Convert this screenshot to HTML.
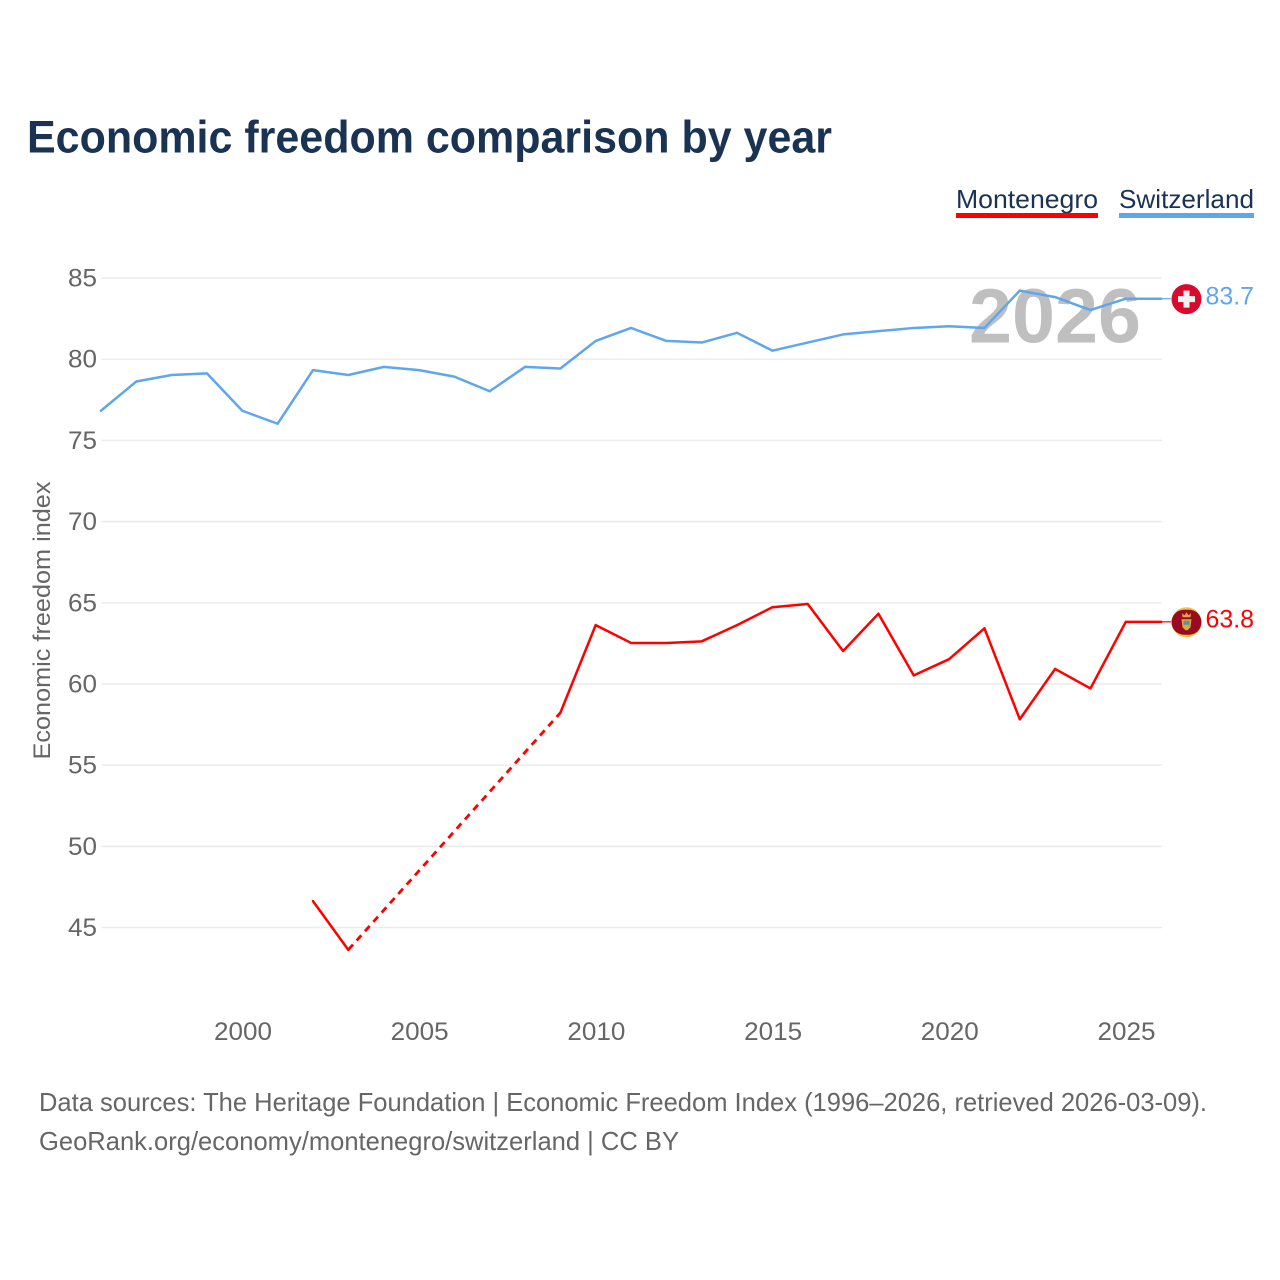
<!DOCTYPE html>
<html>
<head>
<meta charset="utf-8">
<title>Economic freedom comparison by year</title>
<style>
html,body{margin:0;padding:0;background:#fff}
svg{display:block}
text{font-family:"Liberation Sans",sans-serif}
</style>
</head>
<body>
<svg id="chart" width="1280" height="1280" viewBox="0 0 1280 1280" xmlns="http://www.w3.org/2000/svg">
  <rect width="1280" height="1280" fill="#fff"/>
  <text x="27" y="152.5" font-size="45" font-weight="700" fill="#1a3353" textLength="805" lengthAdjust="spacingAndGlyphs">Economic freedom comparison by year</text>
  <g>
    <g>
      <text x="956" y="208" font-size="26" fill="#1a3353" textLength="142" lengthAdjust="spacingAndGlyphs">Montenegro</text>
      <rect x="956" y="213" width="142" height="5" fill="#ff0000"/>
    </g>
    <g>
      <text x="1119" y="208" font-size="26" fill="#1a3353" textLength="135" lengthAdjust="spacingAndGlyphs">Switzerland</text>
      <rect x="1119" y="213" width="135" height="5" fill="#5fa6ec"/>
    </g>
  </g>
  <g id="grid"></g>
  <text x="1055" y="342.5" font-size="77" font-weight="700" fill="#bfbfbf" text-anchor="middle" textLength="172" lengthAdjust="spacingAndGlyphs">2026</text>
  <g id="yticks"></g>
  <g id="xticks"></g>
  <text transform="translate(50,620.5) rotate(-90)" font-size="24" fill="#666" text-anchor="middle" textLength="278" lengthAdjust="spacingAndGlyphs">Economic freedom index</text>
  <g id="series" transform="translate(-0.7,-0.4)"></g>
  <g id="ends"></g>
  <text x="39" y="1111" font-size="26" fill="#666" textLength="1168" lengthAdjust="spacingAndGlyphs">Data sources: The Heritage Foundation | Economic Freedom Index (1996–2026, retrieved 2026-03-09).</text>
  <text x="39" y="1150" font-size="26" fill="#666" textLength="640" lengthAdjust="spacingAndGlyphs">GeoRank.org/economy/montenegro/switzerland | CC BY</text>
</svg>
<script>
const years = [1996,1997,1998,1999,2000,2001,2002,2003,2004,2005,2006,2007,2008,2009,2010,2011,2012,2013,2014,2015,2016,2017,2018,2019,2020,2021,2022,2023,2024,2025,2026];
const switzerland = [76.8,78.6,79.0,79.1,76.8,76.0,79.3,79.0,79.5,79.3,78.9,78.0,79.5,79.4,81.1,81.9,81.1,81.0,81.6,80.5,81.0,81.5,81.7,81.9,82.0,81.9,84.2,83.8,83.0,83.7,83.7];
const montenegro = [null,null,null,null,null,null,46.6,43.6,null,null,null,null,null,58.2,63.6,62.5,62.5,62.6,63.6,64.7,64.9,62.0,64.3,60.5,61.5,63.4,57.8,60.9,59.7,63.8,63.8];
const yTickValues = [45,50,55,60,65,70,75,80,85];
const xTickValues = [2000,2005,2010,2015,2020,2025];

const NS = 'http://www.w3.org/2000/svg';
const xScale = yr => 243 + (yr - 2000) * (1126.5 - 243) / 25;
const yScale = v => 278 + (85 - v) * (927.5 - 278) / 40;

function make(tag, attrs, parent) {
  const el = document.createElementNS(NS, tag);
  for (const k in attrs) el.setAttribute(k, attrs[k]);
  parent.appendChild(el);
  return el;
}

const gridG = document.getElementById('grid');
const yG = document.getElementById('yticks');
yTickValues.forEach(v => {
  const line = make('line', {x1: xScale(1996), x2: xScale(2026), y1: yScale(v), y2: yScale(v), stroke: '#ececec', 'stroke-width': 1.5}, gridG);
  
  
  const t = make('text', {x: 68, y: yScale(v) + 8.5, 'font-size': 25, fill: '#666', textLength: 29, lengthAdjust: 'spacingAndGlyphs'}, yG);
  
  
  t.textContent = v;
});

const xG = document.getElementById('xticks');
xTickValues.forEach(yr => {
  const t = make('text', {x: xScale(yr) - 29, y: 1040, 'font-size': 25, fill: '#666', textLength: 58, lengthAdjust: 'spacingAndGlyphs'}, xG);
  
  
  t.textContent = yr;
});

function drawSeries(values, color, name) {
  const g = document.getElementById('series');
  let solid = '', dashed = '', prev = -1;
  values.forEach((v, i) => {
    if (v === null) return;
    const p = xScale(years[i]).toFixed(2) + ' ' + yScale(v).toFixed(2);
    if (prev >= 0) {
      const pp = xScale(years[prev]).toFixed(2) + ' ' + yScale(values[prev]).toFixed(2);
      if (i - prev > 1) dashed += 'M' + pp + 'L' + p;
      else solid += 'M' + pp + 'L' + p;
    }
    prev = i;
  });
  const s = make('path', {d: solid, fill: 'none', stroke: color, 'stroke-width': 2.5, 'stroke-linejoin': 'round', 'stroke-linecap': 'round'}, g);
  
  
  if (dashed) {
    const d = make('path', {d: dashed, fill: 'none', stroke: color, 'stroke-width': 2.8, 'stroke-dasharray': '7 5.5'}, g);
    
    
  }
}
drawSeries(montenegro, '#ff0000', 'montenegro');
drawSeries(switzerland, '#5fa6ec', 'switzerland');

function drawEnd(values, color, name) {
  const g = document.getElementById('ends');
  const v = values[values.length - 1];
  const y = yScale(v);
  const c = make('line', {x1: xScale(2026) - 1, x2: 1171, y1: y - 0.4, y2: y - 0.4, stroke: color, 'stroke-width': 1.2}, g);
  
  
  const t = make('text', {x: 1205.5, y: y + 5.5, 'font-size': 25, fill: color, textLength: 48.5, lengthAdjust: 'spacingAndGlyphs'}, g);
  
  
  t.textContent = v.toFixed(1);
  return y;
}
const yM = drawEnd(montenegro, '#ff0000', 'montenegro');
const yS = drawEnd(switzerland, '#5fa6ec', 'switzerland');

const endsG = document.getElementById('ends');
const flagS = make('g', {transform: 'translate(1186.5,' + yS + ')'}, endsG);


make('circle', {r: 15, fill: '#da0a2c'}, flagS);
make('rect', {x: -8.5, y: -3, width: 17, height: 6, fill: '#f4f0f0'}, flagS);
make('rect', {x: -3, y: -8.5, width: 6, height: 17, fill: '#f4f0f0'}, flagS);

const flagM = make('g', {transform: 'translate(1186.5,' + yM + ')'}, endsG);


make('circle', {r: 15, fill: '#f0c63c'}, flagM);
make('rect', {x: -15, y: -12.5, width: 30, height: 25, rx: 12.5, fill: '#9a0a22'}, flagM);
make('path', {d: 'M-4 -5 L-4.5 -9 L-2 -7 L0 -10 L2 -7 L4.5 -9 L4 -5 Z', fill: '#d9a93a'}, flagM);
make('path', {d: 'M-5 -3 L5 -3 L4 5 L1 8 L-1 8 L-4 5 Z', fill: '#d9a93a'}, flagM);
make('rect', {x: -3, y: -1.5, width: 6, height: 4, fill: '#5f8fb0'}, flagM);
</script>
</body>
</html>
